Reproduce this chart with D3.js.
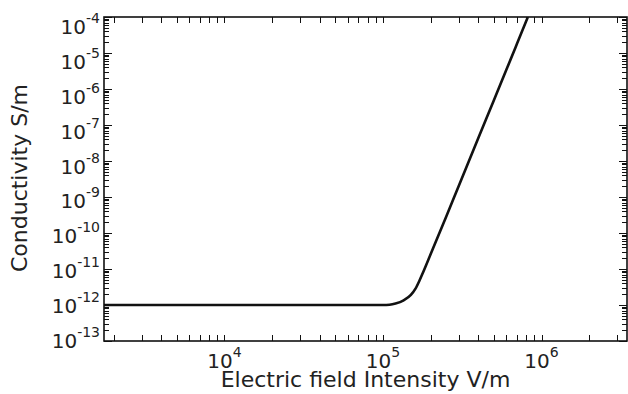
<!DOCTYPE html>
<html>
<head>
<meta charset="utf-8">
<script src="https://cdn.jsdelivr.net/npm/d3@7"></script>
<style>
  body { margin: 0; background: #fff; }
  text { font-family: "DejaVu Sans", sans-serif; fill: #222; }
</style>
</head>
<body>
<div id="chart"></div>
<script>
// Field intensity (V/m) and conductivity (S/m)
const fieldE = [1.74e3, 1e4, 1e5, 1.1e5, 1.2e5, 1.35e5, 1.5e5, 1.6e5, 1.7e5, 1.8e5, 2e5, 2.5e5, 3e5, 4e5, 5e5, 6e5, 7e5, 8.2e5];
const conductivity = [1e-12, 1e-12, 1e-12, 1.02e-12, 1.1e-12, 1.35e-12, 1.9e-12, 2.8e-12, 4.8e-12, 8.5e-12, 2.6e-11, 2.8e-10, 2.0e-9, 4.4e-8, 4.8e-7, 3.4e-6, 1.8e-5, 1e-4];

// Axis ranges and tick labels
const xDomain = [1.74e3, 3.46e6];
const yDomain = [1e-13, 1e-4];
const xExponents = [4, 5, 6];
const yExponents = [-13, -12, -11, -10, -9, -8, -7, -6, -5, -4];

const width = 628, height = 394;
const margin = {left: 104, right: 1, top: 17, bottom: 53};

const svg = d3.select("#chart").append("svg")
    .attr("width", width)
    .attr("height", height);

const x = d3.scaleLog().domain(xDomain).range([margin.left, width - margin.right]);
const y = d3.scaleLog().domain(yDomain).range([height - margin.bottom, margin.top]);
// labels in the original drift slightly from their ticks
const yLab = d3.scaleLog().domain(yDomain).range([348, 34]);

const x0 = x.range()[0], x1 = x.range()[1];
const y0 = y.range()[0], y1 = y.range()[1];

// minor + major ticks
function logTicks(domain) {
    const out = [];
    const lo = Math.floor(Math.log10(domain[0])), hi = Math.ceil(Math.log10(domain[1]));
    for (let e = lo; e <= hi; e++) {
        for (let m = 1; m <= 9; m++) {
            const v = m * Math.pow(10, e);
            if (v >= domain[0] * 0.999 && v <= domain[1] * 1.001) out.push({v: v, major: m === 1});
        }
    }
    return out;
}

const ticks = svg.append("g").attr("stroke", "#111").attr("stroke-width", 1);

logTicks(xDomain).forEach(t => {
    const px = Math.round(x(t.v)) + 0.5;
    ticks.append("line").attr("x1", px).attr("x2", px).attr("y1", y0).attr("y2", y0 - 6);
    ticks.append("line").attr("x1", px).attr("x2", px).attr("y1", y1).attr("y2", y1 + 6);
});

logTicks(yDomain).forEach(t => {
    const py = Math.round(y(t.v)) + 0.5;
    const len = t.major ? 8 : 5;
    ticks.append("line").attr("y1", py).attr("y2", py).attr("x1", x0).attr("x2", x0 + len);
    ticks.append("line").attr("y1", py).attr("y2", py).attr("x1", x1).attr("x2", x1 - len);
});

// curve
svg.append("clipPath").attr("id", "plot-clip")
    .append("rect").attr("x", x0).attr("y", y1).attr("width", x1 - x0).attr("height", y0 - y1);

const points = fieldE.map((e, i) => [e, conductivity[i]]);
const line = d3.line()
    .x(d => x(d[0]))
    .y(d => y(d[1]))
    .curve(d3.curveMonotoneX);

svg.append("path")
    .datum(points)
    .attr("clip-path", "url(#plot-clip)")
    .attr("d", line)
    .attr("fill", "none")
    .attr("stroke", "#111")
    .attr("stroke-width", 2.6);

// frame
svg.append("rect")
    .attr("x", x0).attr("y", y1)
    .attr("width", x1 - x0).attr("height", y0 - y1)
    .attr("fill", "none")
    .attr("stroke", "#111")
    .attr("stroke-width", 1.6);

// x tick labels
xExponents.forEach(e => {
    const t = svg.append("text")
        .attr("x", x(Math.pow(10, e)))
        .attr("y", 368)
        .attr("text-anchor", "middle")
        .attr("font-size", 20);
    t.append("tspan").text("10");
    t.append("tspan").attr("dy", -11).attr("font-size", 14).text(e);
});

// y tick labels
yExponents.forEach(e => {
    const t = svg.append("text")
        .attr("x", 100)
        .attr("y", yLab(Math.pow(10, e)))
        .attr("text-anchor", "end")
        .attr("font-size", 20);
    t.append("tspan").text("10");
    t.append("tspan").attr("dy", -11).attr("font-size", 14).text(e);
});

// axis titles
svg.append("text")
    .attr("x", (x0 + x1) / 2)
    .attr("y", 387)
    .attr("text-anchor", "middle")
    .attr("font-size", 22)
    .text("Electric field Intensity V/m");

svg.append("text")
    .attr("transform", "translate(27,178) rotate(-90)")
    .attr("text-anchor", "middle")
    .attr("font-size", 22)
    .text("Conductivity S/m");
</script>
</body>
</html>
